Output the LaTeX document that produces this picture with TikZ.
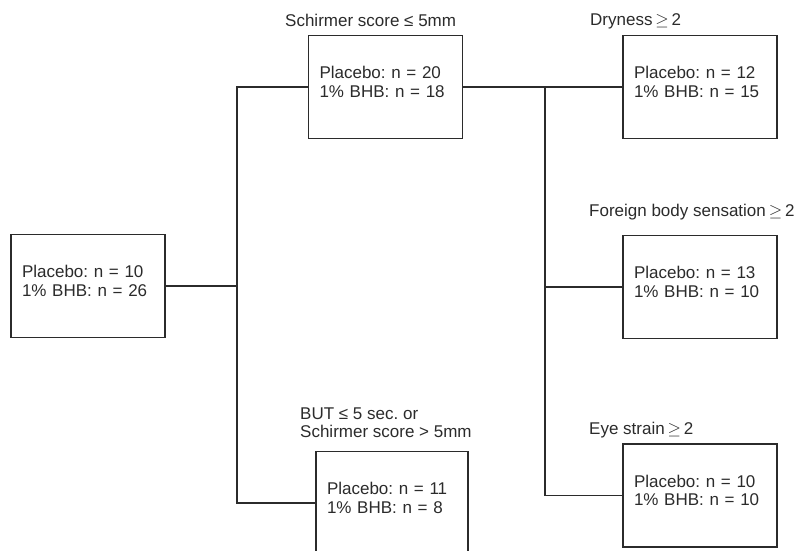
\documentclass[tikz,border=0pt]{standalone}
\usepackage{fontspec}
\setmainfont{Liberation Sans}
\frenchspacing
\usetikzlibrary{positioning,calc}
\definecolor{cInk}{HTML}{2B2B2B}
\tikzset{
  grp/.style  = {draw=cInk, line width=1.6pt, text=cInk, minimum width=154pt,
                 minimum height=103pt, text width=132pt, inner xsep=11pt,
                 text depth=29pt, align=left, font=\fontsize{17}{18.5}\selectfont},
  lbl/.style  = {text=cInk, inner sep=0pt, align=left,
                 font=\fontsize{17}{18.5}\selectfont},
  link/.style = {cInk, line width=1.6pt},
}

\begin{document}
\begin{tikzpicture}[x=1pt, y=-1pt]
  \useasboundingbox (0,0) rectangle (803,551);
  \clip (0,0) rectangle (803,551);
  % groups
  \node[grp] (root) at (88,286) {Placebo: n = 10\\1\% BHB: n = 26};
  \node[grp] (schir) at (385.5,87) {Placebo: n = 20\\1\% BHB: n = 18};
  \node[grp, minimum width=152pt, text width=130pt] (but) at (392,503) {Placebo: n = 11\\1\% BHB: n = 8};
  \node[grp] (dry) at (700,87) {Placebo: n = 12\\1\% BHB: n = 15};
  \node[grp] (fbs) at (700,287) {Placebo: n = 13\\1\% BHB: n = 10};
  \node[grp] (eye) at (700,495.5) {Placebo: n = 10\\1\% BHB: n = 10};
  % criteria above the boxes
  \node[lbl, anchor=base west] (lschir) at (285,27) {Schirmer score ≤ 5mm};
  \node[lbl, anchor=south west] (lbut) at (300,438) {BUT ≤ 5 sec. or\\Schirmer score > 5mm};
  \node[lbl, anchor=base west] (ldry) at (590,26) {Dryness\,$\geq$\,2};
  \node[lbl, anchor=base west] (lfbs) at (589,216) {Foreign body sensation\,$\geq$\,2};
  \node[lbl, anchor=base west] (leye) at (589,434) {Eye strain\,$\geq$\,2};
  % connectors
  \coordinate (jl) at (237,0);
  \coordinate (jr) at (545,0);
  \draw[link] (root.east) -- (jl |- root.east);
  \draw[link] (schir.west) -| (jl |- but.west) -- (but.west);
  \draw[link] (schir.east) -- (dry.west);
  \draw[link] (jr |- schir.east) |- (eye.west);
  \draw[link] (jr |- fbs.west) -- (fbs.west);
\end{tikzpicture}
\end{document}
